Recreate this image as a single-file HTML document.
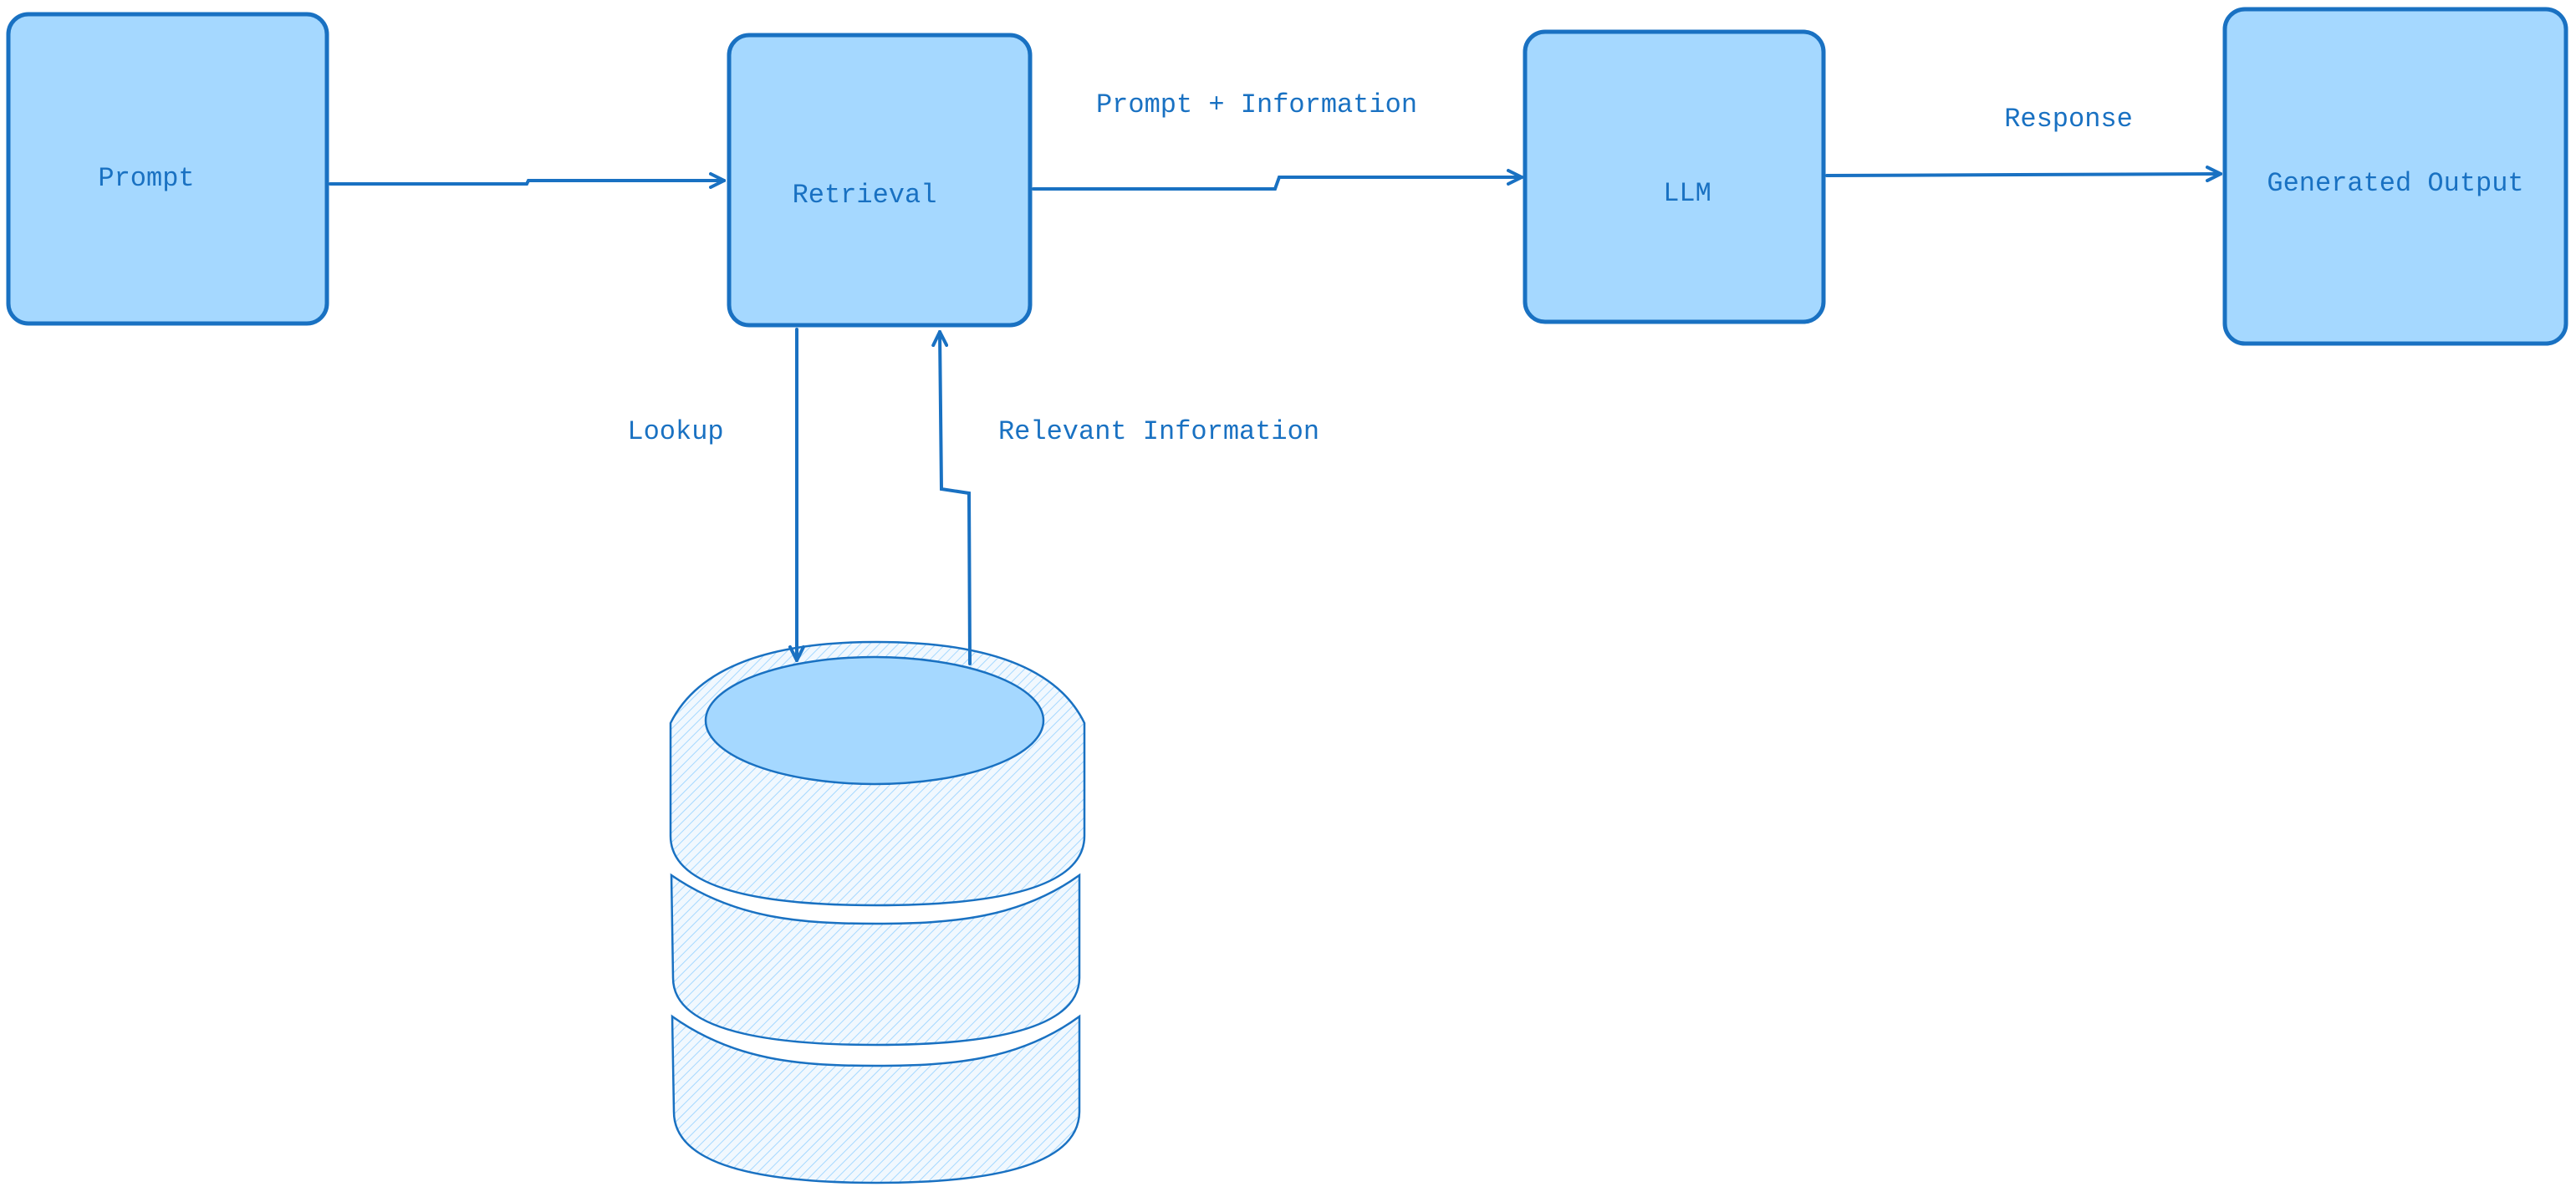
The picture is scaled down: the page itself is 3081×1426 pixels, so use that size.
<!DOCTYPE html>
<html><head><style>
html,body{margin:0;padding:0;background:#fff;}
svg{display:block}
text{font-family:"Liberation Mono",monospace;fill:#1971c2;font-size:32px;}
</style></head><body>
<svg width="3081" height="1426" viewBox="0 0 3081 1426" xmlns="http://www.w3.org/2000/svg">
<defs>
<pattern id="h" width="8" height="8" patternUnits="userSpaceOnUse" patternTransform="rotate(45)">
<rect width="8" height="8" fill="#f1f8fe"/>
<line x1="0" y1="0" x2="0" y2="8" stroke="#a5d8ff" stroke-width="2"/>
</pattern>
<marker id="a" markerWidth="20" markerHeight="20" refX="18" refY="10" orient="auto" markerUnits="userSpaceOnUse">
<path d="M2,2 L18,10 L2,18" fill="none" stroke="#1971c2" stroke-width="4" stroke-linecap="round"/>
</marker>
</defs>
<g fill="#a5d8ff" stroke="#1971c2" stroke-width="5">
<rect x="10" y="17" width="381" height="370" rx="24"/>
<rect x="872" y="42" width="360" height="347" rx="24"/>
<rect x="1824" y="38" width="357" height="347" rx="24"/>
<rect x="2661" y="11" width="408" height="400" rx="24"/>
</g>
<text x="175" y="222" text-anchor="middle">Prompt</text>
<text x="1034" y="242" text-anchor="middle">Retrieval</text>
<text x="2018" y="240" text-anchor="middle">LLM</text>
<text x="2865" y="228" text-anchor="middle">Generated Output</text>
<text x="1503" y="134" text-anchor="middle">Prompt + Information</text>
<text x="2474" y="151" text-anchor="middle">Response</text>
<text x="808" y="525" text-anchor="middle">Lookup</text>
<text x="1386" y="525" text-anchor="middle">Relevant Information</text>
<g stroke="#1971c2" stroke-width="2.5" fill="url(#h)">
<path d="M804,1216 C880,1270 960,1275 1048,1275 C1140,1275 1220,1268 1291,1216 L1291,1330 Q1290,1415 1048,1415 Q806,1415 806,1330 Z"/>
<path d="M803,1047 C880,1100 960,1105 1048,1105 C1140,1105 1220,1098 1291,1047 L1291,1170 Q1290,1250 1048,1250 Q805,1250 805,1170 Z"/>
<path d="M802,865 Q850,768 1048,768 Q1250,768 1297,865 L1297,1000 Q1297,1083 1048,1083 Q802,1083 802,1000 Z"/>
<ellipse cx="1046" cy="862" rx="202" ry="76" fill="#a5d8ff"/>
</g>
<g fill="none" stroke="#1971c2" stroke-width="4" stroke-linecap="round">
<path d="M395,220 L630,220 L632,216 L866,216" marker-end="url(#a)"/>
<path d="M1236,226 L1525,226 L1530,212 L1820,212" marker-end="url(#a)"/>
<path d="M2185,210 L2656,208" marker-end="url(#a)"/>
<path d="M953,394 L953,790" marker-end="url(#a)"/>
<path d="M1160,794 L1159,590 L1126,585 L1124,397" marker-end="url(#a)"/>
</g>
</svg>
</body></html>
